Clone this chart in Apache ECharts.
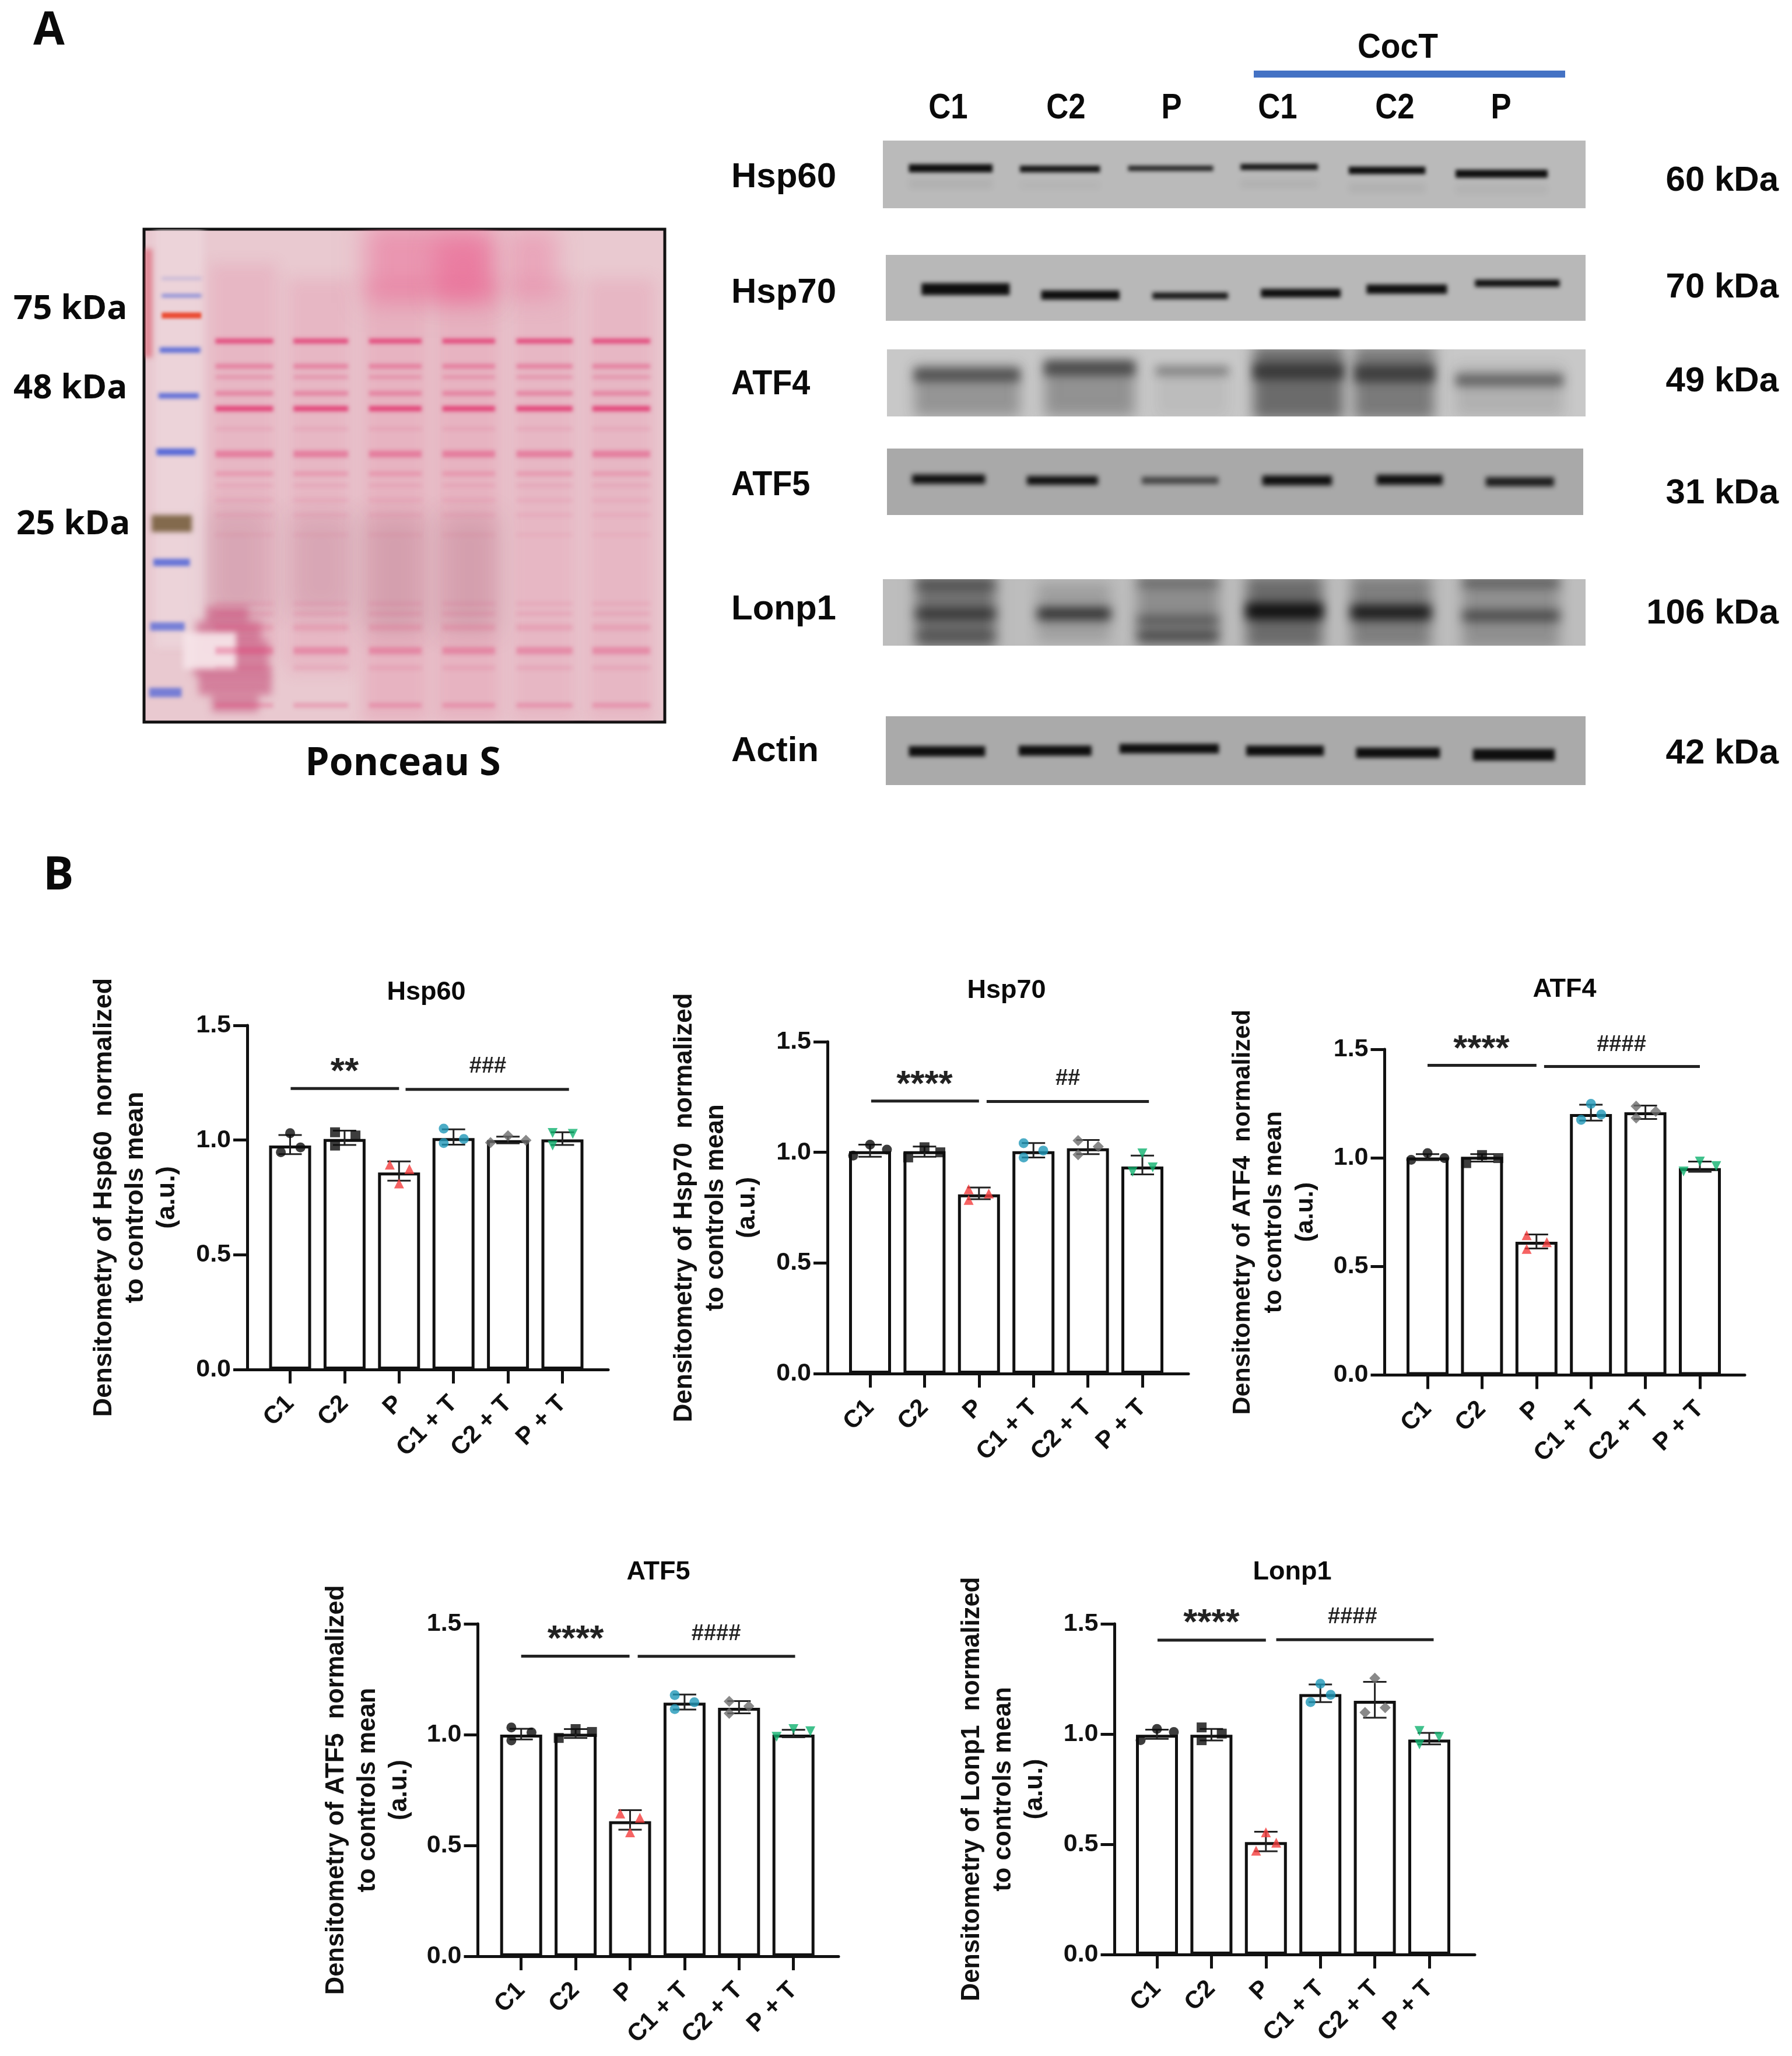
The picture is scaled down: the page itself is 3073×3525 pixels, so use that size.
<!DOCTYPE html>
<html>
<head>
<meta charset="utf-8">
<style>html,body{margin:0;background:#fff}#charts{width:3073px;height:3525px}</style>
<script src="https://cdn.jsdelivr.net/npm/echarts@6/dist/echarts.min.js"></script>
</head>
<body>
<div id="charts"></div>
<script>
const cats = ['C1', 'C2', 'P', 'C1 + T', 'C2 + T', 'P + T'];
const tickCats = [0, 1, 2, 3, 4, 5];

// panel B values. points are [category + jitter, value]
const hsp60Means = [0.976, 1.005, 0.859, 1.009, 1.0, 1.003];
const hsp60High = [1.022, 1.041, 0.907, 1.047, 1.015, 1.034];
const hsp60Low = [0.939, 0.979, 0.823, 0.98, 0.986, 0.979];
const hsp60Points = [[-0.17, 0.947], [0, 1.03], [0.19, 0.968], [0.825, 1.034], [0.825, 0.976], [1.2, 1.02], [1.83, 0.893], [2.19, 0.874], [2, 0.811], [2.82, 1.05], [3.19, 1.005], [2.82, 0.987], [4, 1.019], [3.68, 0.989], [4.33, 0.999], [4.82, 1.031], [5.19, 1.027], [4.82, 0.976]];
const hsp60Sig = [[0.01, 2, 1.225], [2.12, 5.12, 1.221]];
const hsp60Marks = [[1, 1.318, '**'], [3.63, 1.32, '###']];

const hsp70Means = [1.005, 1.005, 0.81, 1.005, 1.018, 0.936];
const hsp70High = [1.035, 1.026, 0.841, 1.042, 1.056, 0.985];
const hsp70Low = [0.98, 0.98, 0.788, 0.977, 0.992, 0.9];
const hsp70Points = [[-0.31, 0.985], [0, 1.035], [0.31, 1.012], [0.7, 0.977], [1, 1.023], [1.29, 1.0], [1.81, 0.833], [2.18, 0.814], [1.81, 0.785], [2.82, 1.041], [3.18, 1.008], [2.82, 0.977], [3.82, 1.053], [4.19, 1.026], [3.82, 0.989], [5, 0.995], [4.82, 0.912], [5.19, 0.932]];
const hsp70Sig = [[0.02, 2, 1.232], [2.14, 5.12, 1.23]];
const hsp70Marks = [[1, 1.326, '****'], [3.63, 1.333, '##']];

const atf4Means = [1.002, 1.005, 0.614, 1.202, 1.21, 0.953];
const atf4High = [1.017, 1.017, 0.647, 1.245, 1.241, 0.983];
const atf4Low = [0.99, 0.983, 0.583, 1.172, 1.179, 0.936];
const atf4Points = [[-0.3, 0.991], [0, 1.022], [0.31, 0.999], [0.71, 0.976], [1, 1.013], [1.3, 0.999], [1.82, 0.644], [2.19, 0.612], [1.82, 0.581], [3, 1.249], [3.19, 1.2], [2.82, 1.175], [3.83, 1.238], [4.19, 1.214], [3.83, 1.184], [5, 0.983], [5.3, 0.962], [4.7, 0.937]];
const atf4Sig = [[0, 2, 1.426], [2.14, 5, 1.421]];
const atf4Marks = [[0.99, 1.521, '****'], [3.56, 1.521, '####']];

const atf5Means = [1.0, 1.004, 0.609, 1.144, 1.121, 1.0];
const atf5High = [1.026, 1.025, 0.659, 1.181, 1.151, 1.022];
const atf5Low = [0.978, 0.985, 0.571, 1.113, 1.096, 0.988];
const atf5Points = [[-0.18, 1.032], [0.19, 1.01], [-0.18, 0.974], [1, 1.025], [0.69, 0.985], [1.3, 1.012], [1.82, 0.644], [2.18, 0.625], [2, 0.559], [2.82, 1.178], [3.18, 1.146], [2.82, 1.115], [3.82, 1.15], [4.18, 1.128], [3.82, 1.096], [5, 1.025], [5.31, 1.015], [4.69, 0.99]];
const atf5Sig = [[0, 1.99, 1.354], [2.14, 5.03, 1.353]];
const atf5Marks = [[1, 1.449, '****'], [3.58, 1.453, '####']];

const lonp1Means = [0.997, 0.997, 0.51, 1.181, 1.151, 0.975];
const lonp1High = [1.02, 1.023, 0.557, 1.225, 1.237, 1.005];
const lonp1Low = [0.978, 0.971, 0.468, 1.145, 1.074, 0.953];
const lonp1Points = [[-0.3, 0.972], [0, 1.023], [0.31, 1.009], [0.82, 1.03], [0.82, 0.972], [1.19, 1.002], [2, 0.554], [2.19, 0.507], [1.82, 0.471], [3, 1.228], [3.19, 1.178], [2.82, 1.145], [4, 1.253], [4.19, 1.12], [3.82, 1.098], [4.82, 1.014], [5.18, 0.987], [4.82, 0.953]];
const lonp1Sig = [[0.01, 2, 1.426], [2.19, 5.08, 1.428]];
const lonp1Marks = [[1, 1.524, '****'], [3.59, 1.53, '####']];

// panel A blots: [from %, to %, centre %, thickness %, darkness]
const hsp60Bands = [[3.7, 15.6, 41, 12, 1], [19.5, 30.9, 42, 10, 0.95], [34.9, 47, 41, 8, 0.85], [50.9, 61.9, 39, 9, 0.95], [66.3, 77.2, 44, 11, 1], [81.5, 94.6, 49, 12, 1]];
const hsp60Ghost = [[3.7, 15.6, 64, 14, 0.05], [19.5, 30.9, 66, 12, 0.03], [50.9, 61.9, 64, 12, 0.05], [66.3, 77.2, 70, 14, 0.05], [81.5, 94.6, 72, 14, 0.04]];
const hsp70Bands = [[5.1, 17.7, 52, 18, 1], [22.2, 33.4, 61, 14, 1], [38.1, 48.9, 62, 10, 0.95], [53.6, 65, 58, 13, 1], [68.7, 80.2, 52, 14, 1], [84.2, 96.3, 43, 11, 1]];
const atf4Smear = [[3.9, 19, 62, 76, 0.34], [22.5, 35.5, 58, 84, 0.36], [38.5, 48.9, 65, 70, 0.08], [52.4, 65.4, 50, 110, 0.62], [66.9, 78.4, 50, 110, 0.52], [81.4, 96.8, 62, 76, 0.15]];
const atf4Bands = [[3.9, 19, 38, 20, 0.6], [22.5, 35.5, 28, 22, 0.65], [38.5, 48.9, 32, 14, 0.42], [52.4, 65.4, 33, 24, 0.72], [66.9, 78.4, 36, 26, 0.7], [81.4, 96.8, 46, 18, 0.55]];
const atf5Bands = [[3.6, 14.1, 46, 14, 1], [20.1, 30.3, 48, 13, 1], [36.6, 47.6, 48, 11, 0.65], [53.9, 63.9, 48, 15, 1], [70.3, 79.8, 47, 15, 1], [86, 95.8, 50, 14, 0.9]];
const lonp1Smear = [[4.7, 16, 50, 110, 0.5], [22, 32.4, 50, 90, 0.2], [36.2, 47.8, 50, 110, 0.32], [51.7, 62.6, 50, 110, 0.55], [66.6, 78, 50, 110, 0.42], [82.5, 96.3, 50, 110, 0.3]];
const lonp1Bands = [[4.7, 16, 52, 16, 0.65], [22, 32.4, 52, 18, 0.8], [36.2, 47.8, 62, 12, 0.5], [36.2, 47.8, 85, 14, 0.6], [51.7, 62.6, 48, 24, 1], [66.6, 78, 50, 22, 0.9], [82.5, 96.3, 55, 15, 0.6], [4.7, 16, 85, 14, 0.35], [4.7, 16, 8, 14, 0.4], [36.2, 47.8, 5, 10, 0.4], [82.5, 96.3, 5, 12, 0.5]];
const actinBands = [[3.3, 14.2, 51, 15, 1], [19, 29.4, 50, 15, 1], [33.4, 47.6, 47, 14, 1], [51.5, 62.6, 50, 15, 1], [67.2, 79.2, 53, 15, 1], [83.9, 95.6, 56, 17, 1]];

// ponceau membrane
const laneEdges = [[13.7, 24.8], [28.7, 39.2], [43.2, 53.3], [57.3, 67.4], [71.5, 82.3], [86.1, 97.2]];
const laneBandY = [22.7, 27.8, 30, 33.3, 36.4, 40.5, 45.6, 49.6, 52, 55, 58, 62, 76, 78, 80.8, 85.5, 89, 96.6];
const laneBandH = [1.0, 1.0, 0.8, 1.0, 1.1, 0.7, 1.4, 1.0, 0.7, 0.7, 0.7, 0.7, 0.8, 0.8, 1.3, 1.5, 0.9, 1.0];
const laneBandAlpha = [0.85, 0.42, 0.26, 0.4, 0.9, 0.12, 0.45, 0.22, 0.12, 0.1, 0.1, 0.08, 0.1, 0.12, 0.16, 0.34, 0.12, 0.28];
const ladderBlue = [[3.4, 11, 10, 0.5, 0.3], [3.4, 11, 13.5, 0.6, 0.75], [3, 10.8, 24.5, 1.1, 0.9], [2.8, 10.5, 33.8, 1.1, 0.9], [2.4, 9.8, 45.2, 1.4, 0.95], [1.8, 8.8, 67.6, 1.5, 0.85], [1.2, 7.8, 80.6, 1.7, 0.75], [1, 7.2, 94, 1.9, 0.75]];
const ladderRed = [[3.4, 11, 17.5, 1.2, 1]];
const ladderBrown = [[1.5, 9.2, 59.7, 3.4, 0.95]];
const edgeRed = [[0, 1.6, 15, 22, 0.5]];
const washPink = [[42.6, 67.4, 7, 16, 0.5], [56, 66.5, 8, 12, 0.5], [70, 79.4, 7, 14, 0.35]];
const washLane = [[12.5, 25.5, 47, 80, 0.16], [27.5, 40, 50, 80, 0.16], [42, 54.5, 55, 90, 0.2], [56, 68.5, 55, 90, 0.2], [70.5, 83, 55, 90, 0.16], [85, 98, 55, 90, 0.16]];
const washGrey = [[12, 24, 68, 22, 0.14], [28, 40, 68, 20, 0.14], [42.5, 54, 70, 24, 0.18], [57, 68, 70, 24, 0.18]];
const blobDark = [[12, 20, 78.5, 4, 0.75], [10, 22.5, 82, 5, 0.75], [9.5, 24, 87, 7, 0.75], [10.5, 24.5, 92, 5, 0.75], [13, 22, 96, 4, 0.7]];
const ladderColumn = [[2, 11.5, 40, 90, 0.45]];
const patchLight = [[7.5, 17.7, 85.5, 7.5, 0.95]];

const panels = [
    { title: 'Hsp60', tx: 731, ty: 1702, left: 424, right: 1043, top: 1758, bottom: 2348, c0: 497.5, font: 45, gap: 110, means: hsp60Means, high: hsp60High, low: hsp60Low, points: hsp60Points, sig: hsp60Sig, marks: hsp60Marks },
    { title: 'Hsp70', tx: 1726, ty: 1699, left: 1419, right: 2038, top: 1786, bottom: 2355, c0: 1492, font: 44, gap: 110, means: hsp70Means, high: hsp70High, low: hsp70Low, points: hsp70Points, sig: hsp70Sig, marks: hsp70Marks },
    { title: 'ATF4', tx: 2683, ty: 1697, left: 2374.5, right: 2992, top: 1799, bottom: 2357.5, c0: 2448, font: 43, gap: 108, means: atf4Means, high: atf4High, low: atf4Low, points: atf4Points, sig: atf4Sig, marks: atf4Marks },
    { title: 'ATF5', tx: 1129, ty: 2696, left: 819.5, right: 1438, top: 2784, bottom: 3354, c0: 893.7, font: 43.5, gap: 108, means: atf5Means, high: atf5High, low: atf5Low, points: atf5Points, sig: atf5Sig, marks: atf5Marks },
    { title: 'Lonp1', tx: 2216, ty: 2696, left: 1911.5, right: 2529, top: 2784, bottom: 3351, c0: 1984, font: 43.5, gap: 110, means: lonp1Means, high: lonp1High, low: lonp1Low, points: lonp1Points, sig: lonp1Sig, marks: lonp1Marks }
];

const pointSymbols = ['circle', 'rect', 'triangle', 'circle', 'diamond', 'triangle'];
const pointRotate = [0, 0, 0, 0, 0, 180];
const pointColors = ['#0d0d0d', '#0d0d0d', '#f43c3c', '#1f97b8', '#6b6b6b', '#10b26f'];

const BAND_W = 93.4;
const SANS = '"Liberation Sans", Arial, sans-serif';
const OFFSCREEN = 6000;

var myChart = echarts.init(document.getElementById('charts'), null, { width: 3073, height: 3525 });

var grids = [], xAxes = [], yAxes = [], seriesList = [], texts = [];

function addPanel(p) {
    let idx = grids.length;
    grids.push({ left: p.left, top: p.top, width: p.right - p.left, height: p.bottom - p.top });
    xAxes.push({
        gridIndex: idx,
        type: 'value',
        min: -(p.c0 - p.left) / BAND_W,
        max: (p.right - p.c0) / BAND_W,
        splitLine: { show: false },
        axisLine: { onZero: false, lineStyle: { color: '#111', width: 5 } },
        axisTick: { customValues: tickCats, length: 24, lineStyle: { color: '#111', width: 5 } },
        axisLabel: {
            customValues: tickCats,
            rotate: 45,
            margin: 52,
            color: '#111',
            fontFamily: SANS,
            fontWeight: 'bold',
            fontSize: 42,
            formatter: function (v) { return cats[v]; }
        }
    });
    yAxes.push({
        gridIndex: idx,
        type: 'value',
        min: 0,
        max: 1.5,
        interval: 0.5,
        splitLine: { show: false },
        name: 'Densitometry of ' + p.title + '  normalized\nto controls mean\n(a.u.)',
        nameLocation: 'middle',
        nameGap: p.gap,
        nameTextStyle: { color: '#111', fontFamily: SANS, fontWeight: 'bold', fontSize: p.font, lineHeight: 54 },
        axisLine: { onZero: false, show: true, lineStyle: { color: '#111', width: 5 } },
        axisTick: { show: true, length: 24, lineStyle: { color: '#111', width: 5 } },
        axisLabel: {
            margin: 28,
            color: '#111',
            fontFamily: SANS,
            fontWeight: 'bold',
            fontSize: 43,
            formatter: function (v) { return v.toFixed(1); }
        }
    });

    seriesList.push({
        type: 'bar',
        xAxisIndex: idx,
        yAxisIndex: idx,
        barWidth: 72,
        itemStyle: { color: '#fff', borderColor: '#111', borderWidth: 5 },
        data: p.means.map(function (m, i) { return [i, m]; })
    });

    seriesList.push({
        type: 'custom',
        xAxisIndex: idx,
        yAxisIndex: idx,
        z: 3,
        encode: { x: 0, y: [1, 2] },
        data: p.high.map(function (h, i) { return [i, h, p.low[i]]; }),
        renderItem: function (params, api) {
            let hi = api.coord([api.value(0), api.value(1)]);
            let lo = api.coord([api.value(0), api.value(2)]);
            let s = { stroke: '#222', lineWidth: 3 };
            return {
                type: 'group',
                children: [
                    { type: 'line', shape: { x1: hi[0], y1: hi[1], x2: lo[0], y2: lo[1] }, style: s },
                    { type: 'line', shape: { x1: hi[0] - 20, y1: hi[1], x2: hi[0] + 20, y2: hi[1] }, style: s },
                    { type: 'line', shape: { x1: lo[0] - 20, y1: lo[1], x2: lo[0] + 20, y2: lo[1] }, style: s }
                ]
            };
        }
    });

    cats.forEach(function (c, i) {
        seriesList.push({
            type: 'scatter',
            xAxisIndex: idx,
            yAxisIndex: idx,
            z: 4,
            symbol: pointSymbols[i],
            symbolRotate: pointRotate[i],
            symbolSize: i === 4 ? 19 : 17,
            itemStyle: { color: pointColors[i] },
            data: p.points.slice(i * 3, i * 3 + 3)
        });
    });

    seriesList.push({
        type: 'custom',
        xAxisIndex: idx,
        yAxisIndex: idx,
        z: 5,
        encode: { x: [0, 1], y: 2 },
        data: p.sig,
        renderItem: function (params, api) {
            let a = api.coord([api.value(0), api.value(2)]);
            let b = api.coord([api.value(1), api.value(2)]);
            return { type: 'line', shape: { x1: a[0], y1: a[1], x2: b[0], y2: b[1] }, style: { stroke: '#222', lineWidth: 5 } };
        }
    });

    seriesList.push({
        type: 'custom',
        xAxisIndex: idx,
        yAxisIndex: idx,
        z: 5,
        encode: { x: 0, y: 1 },
        data: p.marks.map(function (m) { return [m[0], m[1]]; }),
        renderItem: function (params, api) {
            let t = p.marks[params.dataIndex][2];
            let c = api.coord([api.value(0), api.value(1)]);
            let star = t.charAt(0) === '*';
            return {
                type: 'text',
                style: {
                    text: t,
                    x: c[0],
                    y: c[1] + (star ? 9 : 0),
                    fill: '#222',
                    font: star ? 'bold 62px ' + SANS : 'bold 38px ' + SANS,
                    align: 'center',
                    verticalAlign: 'middle'
                }
            };
        }
    });

    texts.push(label(p.title, p.tx, p.ty, 'bold 45px ' + SANS, 'center'));
}

function label(t, x, y, font, align, sx) {
    return {
        type: 'text',
        x: x,
        y: y,
        scaleX: sx || 1,
        style: { text: t, font: font, fill: '#0a0a0a', align: align || 'left', verticalAlign: 'middle' }
    };
}

// hidden 0-100 grid for a photo, rows are [from, to, centre, thickness, alpha]
function addPhoto(box, bg, border) {
    let idx = grids.length;
    grids.push({ show: true, left: box[0], top: box[1], width: box[2] - box[0], height: box[3] - box[1], backgroundColor: bg, borderWidth: border ? 5 : 0, borderColor: '#111' });
    xAxes.push({ gridIndex: idx, type: 'value', show: false, min: 0, max: 100 });
    yAxes.push({ gridIndex: idx, type: 'value', show: false, inverse: true, min: 0, max: 100 });
    return idx;
}

// the rect sits off the page and only its blurred shadow lands in the grid, so the edges are soft
function photoRows(idx, rows, rgb, blur, z) {
    seriesList.push({
        type: 'custom',
        xAxisIndex: idx,
        yAxisIndex: idx,
        z: z || 2,
        clip: true,
        encode: { x: [0, 1], y: 2 },
        data: rows,
        renderItem: function (params, api) {
            let a = api.coord([api.value(0), api.value(2) - api.value(3) / 2]);
            let b = api.coord([api.value(1), api.value(2) + api.value(3) / 2]);
            return {
                type: 'rect',
                shape: { x: a[0] - OFFSCREEN, y: a[1], width: b[0] - a[0], height: b[1] - a[1] },
                style: { fill: '#000', shadowBlur: blur, shadowOffsetX: OFFSCREEN, shadowColor: 'rgba(' + rgb + ',' + api.value(4) + ')' }
            };
        }
    });
}

panels.forEach(addPanel);

const DARK = '15,15,15';

let g = addPhoto([1514, 241, 2719, 357], '#bababa');
photoRows(g, hsp60Ghost, DARK, 12);
photoRows(g, hsp60Bands, DARK, 6, 3);
g = addPhoto([1519, 437, 2719, 550], '#b8b8b8');
photoRows(g, hsp70Bands, DARK, 7);
g = addPhoto([1521, 599, 2719, 714], '#c8c8c8');
photoRows(g, atf4Smear, '50,50,50', 22);
photoRows(g, atf4Bands, '40,40,40', 16, 3);
g = addPhoto([1521, 769, 2715, 883], '#a9a9a9');
photoRows(g, atf5Bands, DARK, 8);
g = addPhoto([1514, 993, 2719, 1107], '#bdbdbd');
photoRows(g, lonp1Smear, '40,40,40', 22);
photoRows(g, lonp1Bands, DARK, 18, 3);
g = addPhoto([1519, 1228, 2719, 1346], '#aaaaaa');
photoRows(g, actinBands, DARK, 7);

g = addPhoto([247, 393, 1140, 1238], '#e9c9d0', true);
photoRows(g, washLane, '225,95,135', 24, 2);
photoRows(g, washGrey, '130,70,90', 44, 2);
photoRows(g, washPink, '236,100,145', 40, 3);
photoRows(g, ladderColumn, '240,225,228', 12, 3);
photoRows(g, blobDark, '205,105,140', 14, 3);
photoRows(g, patchLight, '246,228,232', 10, 4);
photoRows(g, edgeRed, '220,70,90', 8, 4);
let laneRows = [];
laneEdges.forEach(function (e) {
    laneBandY.forEach(function (y, i) {
        laneRows.push([e[0], e[1], y, laneBandH[i], laneBandAlpha[i]]);
    });
});
photoRows(g, laneRows, '226,60,115', 6, 5);
photoRows(g, ladderBlue, '80,100,215', 6, 6);
photoRows(g, ladderRed, '235,75,50', 5, 6);
photoRows(g, ladderBrown, '125,100,70', 8, 6);

const OPEN = '"Open Sans", sans-serif';
texts.push(label('A', 57, 54, 'bold 78px ' + OPEN));
texts.push(label('B', 74, 1503, 'bold 78px ' + OPEN));
texts.push(label('75 kDa', 23, 530, 'bold 58px ' + OPEN));
texts.push(label('48 kDa', 23, 666, 'bold 58px ' + OPEN));
texts.push(label('25 kDa', 28, 899, 'bold 58px ' + OPEN));
texts.push(label('Ponceau S', 691, 1310, 'bold 66px ' + OPEN, 'center'));

['Hsp60', 'Hsp70', 'ATF4', 'ATF5', 'Lonp1', 'Actin'].forEach(function (t, i) {
    texts.push(label(t, 1254, [304, 502, 659, 832, 1045, 1288][i], 'bold 60px ' + SANS, 'left', [1, 1, 0.93, 0.93, 1, 1][i]));
});
['60 kDa', '70 kDa', '49 kDa', '31 kDa', '106 kDa', '42 kDa'].forEach(function (t, i) {
    texts.push(label(t, 3050, [310, 493, 654, 846, 1052, 1292][i], 'bold 60px ' + SANS, 'right'));
});
['C1', 'C2', 'P', 'C1', 'C2', 'P'].forEach(function (t, i) {
    texts.push(label(t, [1626, 1828, 2009, 2191, 2392, 2574][i], 186, 'bold 62px ' + SANS, 'center', 0.85));
});
texts.push(label('CocT', 2397, 82, 'bold 60px ' + SANS, 'center', 0.92));
texts.push({ type: 'rect', shape: { x: 2150, y: 121, width: 534, height: 12 }, style: { fill: '#4472c4' } });

myChart.setOption({
    animation: false,
    backgroundColor: '#fff',
    grid: grids,
    xAxis: xAxes,
    yAxis: yAxes,
    series: seriesList,
    graphic: texts
});
</script>
</body>
</html>
